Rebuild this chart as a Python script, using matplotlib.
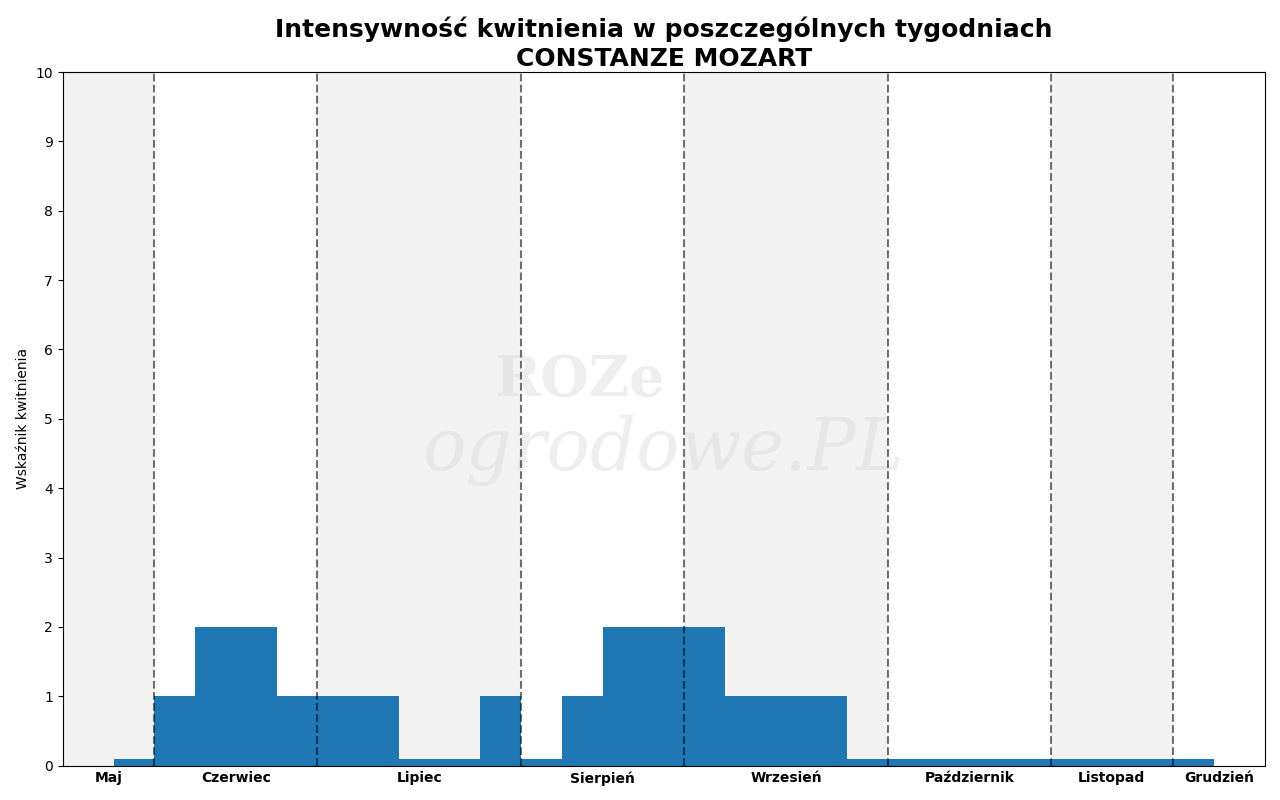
import matplotlib
matplotlib.use("Agg")
import matplotlib.pyplot as plt
import numpy as np

values = [0.1, 1, 2, 2, 1, 1, 1, 0.1, 0.1, 1, 0.1, 1, 2, 2, 2, 1, 1, 1,
          0.1, 0.1, 0.1, 0.1, 0.1, 0.1, 0.1, 0.1, 0.1]
months = ["Maj", "Czerwiec", "Lipiec", "Sierpień", "Wrzesień", "Październik", "Listopad", "Grudzień"]
boundaries = [0.5, 4.5, 9.5, 13.5, 18.5, 22.5, 25.5]

xmin, xmax = -1.75, 27.75
fig, ax = plt.subplots(figsize=(12.8, 8), dpi=100)
fig.subplots_adjust(left=0.049, right=0.988, top=0.91, bottom=0.043)

edges = [xmin] + boundaries + [xmax]
for i in range(len(months)):
    if i % 2 == 0:
        ax.axvspan(edges[i], edges[i + 1], color="#f2f2f2", zorder=0, lw=0)

x = np.arange(len(values))
ax.bar(x, values, width=1.0, color="#1f77b4", zorder=2)

for b in boundaries:
    ax.axvline(b, color="black", ls="--", lw=1.5, alpha=0.55, zorder=3)

ax.text(0.43, 0.555, "ROZe", transform=ax.transAxes, ha="center", va="center",
        fontsize=40, color="#d0d0d0", alpha=0.35, family="DejaVu Serif", fontweight="bold", zorder=1)
ax.text(0.5, 0.455, "ogrodowe.PL", transform=ax.transAxes, ha="center", va="center",
        fontsize=52, color="#d0d0d0", alpha=0.35, family="DejaVu Serif", style="italic", zorder=1)

centers = [(edges[i] + edges[i + 1]) / 2 for i in range(len(months))]
ax.set_xticks(centers)
ax.set_xticklabels(months, fontweight="bold", fontsize=10)
ax.tick_params(axis="x", length=0, pad=4)
ax.set_xlim(xmin, xmax)
ax.set_ylim(0, 10)
ax.set_yticks(range(11))
ax.set_ylabel("Wskaźnik kwitnienia")
ax.set_title("Intensywność kwitnienia w poszczególnych tygodniach\nCONSTANZE MOZART",
             fontsize=18, fontweight="bold", linespacing=1.3, pad=4)
fig.savefig("out.png")
